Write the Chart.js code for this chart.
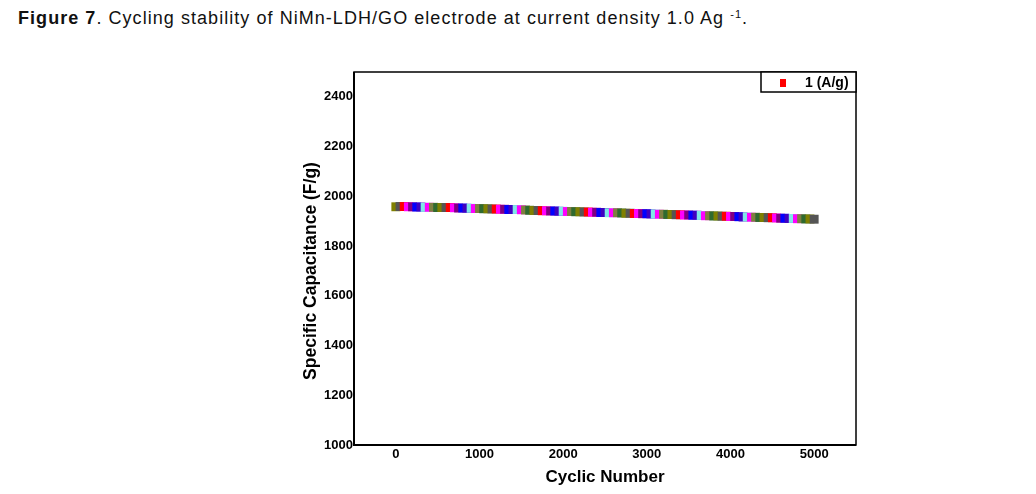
<!DOCTYPE html>
<html>
<head>
<meta charset="utf-8">
<script src="https://cdn.jsdelivr.net/npm/chart.js@4"></script>
<style>
  html, body { margin: 0; padding: 0; background: #fff; width: 1036px; height: 494px; overflow: hidden; }
  #title { position: absolute; left: 18px; top: 8px; font-family: "Liberation Sans", Arial, sans-serif; font-size: 18px; color: #111; white-space: nowrap; letter-spacing: 1.05px; }
  #title b { font-weight: bold; }
  #title sup { font-size: 11px; vertical-align: 6px; line-height: 0; }
  #wrap { position: absolute; left: 0; top: 0; width: 1036px; height: 494px; }
</style>
</head>
<body>
<div id="title"><b>Figure 7</b>. Cycling stability of NiMn-LDH/GO electrode at current density 1.0 Ag <sup>-1</sup>.</div>
<div id="wrap"><canvas id="c" width="1036" height="494"></canvas></div>
<script>
// ---- data ----
const cycles = [
  0, 50, 100, 150, 200, 250, 300, 350, 400, 450,
  500, 550, 600, 650, 700, 750, 800, 850, 900, 950,
  1000, 1050, 1100, 1150, 1200, 1250, 1300, 1350, 1400, 1450,
  1500, 1550, 1600, 1650, 1700, 1750, 1800, 1850, 1900, 1950,
  2000, 2050, 2100, 2150, 2200, 2250, 2300, 2350, 2400, 2450,
  2500, 2550, 2600, 2650, 2700, 2750, 2800, 2850, 2900, 2950,
  3000, 3050, 3100, 3150, 3200, 3250, 3300, 3350, 3400, 3450,
  3500, 3550, 3600, 3650, 3700, 3750, 3800, 3850, 3900, 3950,
  4000, 4050, 4100, 4150, 4200, 4250, 4300, 4350, 4400, 4450,
  4500, 4550, 4600, 4650, 4700, 4750, 4800, 4850, 4900, 4950,
  5000
];
const capacitance = [
  1958, 1959, 1959, 1958, 1958, 1957, 1957, 1956, 1956, 1956,
  1955, 1955, 1955, 1955, 1954, 1953, 1953, 1952, 1952, 1951,
  1951, 1950, 1950, 1949, 1949, 1948, 1948, 1947, 1947, 1947,
  1946, 1945, 1944, 1943, 1943, 1942, 1942, 1941, 1941, 1940,
  1940, 1939, 1939, 1938, 1938, 1937, 1937, 1936, 1936, 1935,
  1935, 1934, 1934, 1934, 1933, 1932, 1932, 1931, 1931, 1930,
  1930, 1929, 1929, 1928, 1928, 1927, 1927, 1926, 1926, 1925,
  1925, 1924, 1924, 1923, 1922, 1922, 1921, 1921, 1920, 1920,
  1919, 1919, 1918, 1917, 1917, 1916, 1916, 1915, 1915, 1914,
  1914, 1913, 1912, 1912, 1911, 1911, 1910, 1910, 1909, 1909,
  1908
];
const seriesLabel = "1 (A/g)";
const xTicks = [0, 1000, 2000, 3000, 4000, 5000];
const yTicks = [1000, 1200, 1400, 1600, 1800, 2000, 2200, 2400];
const xTitle = "Cyclic Number";
const yTitle = "Specific Capacitance (F/g)";

// ---- styling ----
const palette = ['#808000', '#FF00FF', '#0000FF', '#FF0000', '#2F6A2F', '#80E8E8', '#800080', '#555555', '#7F7F40', '#4000C0', '#FF00FF'];
const pointColors = cycles.map((_, i) => palette[(i * 7) % palette.length]);

const AREA = { left: 354, right: 856, top: 72, bottom: 445 };

const framePlugin = {
  id: 'frame',
  afterDatasetsDraw(chart) {
    const ctx = chart.ctx;
    const a = chart.chartArea;
    ctx.save();
    ctx.strokeStyle = '#000';
    ctx.lineWidth = 1.5;
    ctx.strokeRect(a.left, a.top, a.right - a.left, a.bottom - a.top);
    ctx.lineWidth = 2;
    ctx.beginPath();
    ctx.moveTo(a.left, a.top); ctx.lineTo(a.left, a.bottom); ctx.lineTo(a.right, a.bottom);
    ctx.stroke();
    // legend
    const lx = 761, ly = a.top, lw = a.right - lx, lh = 20;
    ctx.fillStyle = '#fff';
    ctx.fillRect(lx, ly, lw, lh);
    ctx.lineWidth = 1.5;
    ctx.strokeRect(lx, ly, lw, lh);
    ctx.fillStyle = '#FF0000';
    ctx.fillRect(780, ly + 7, 6, 8);
    ctx.fillStyle = '#000';
    ctx.font = 'bold 14px "Liberation Sans", Arial, sans-serif';
    ctx.textBaseline = 'middle';
    ctx.textAlign = 'left';
    ctx.fillText(chart.data.datasets[0].label, 805, ly + 11);
    // axis titles
    ctx.font = 'bold 17px "Liberation Sans", Arial, sans-serif';
    ctx.textAlign = 'center';
    ctx.fillText(xTitle, (a.left + a.right) / 2, 477);
    ctx.translate(311, 271);
    ctx.rotate(-Math.PI / 2);
    ctx.font = 'bold 17.5px "Liberation Sans", Arial, sans-serif';
    ctx.fillText(yTitle, 0, 0);
    ctx.restore();
  }
};

const tickFont = { family: '"Liberation Sans", Arial, sans-serif', size: 13, weight: 'bold' };

new Chart(document.getElementById('c'), {
  type: 'scatter',
  data: {
    datasets: [{
      label: seriesLabel,
      data: cycles.map((c, i) => ({ x: c, y: capacitance[i] })),
      pointStyle: 'rect',
      pointRadius: 6.3,
      pointHoverRadius: 6.3,
      borderWidth: 0,
      backgroundColor: pointColors,
      borderColor: pointColors,
      showLine: false
    }]
  },
  options: {
    responsive: false,
    animation: false,
    devicePixelRatio: 1,
    layout: { padding: { left: 0, top: AREA.top, right: 1036 - AREA.right, bottom: 0 } },
    plugins: { legend: { display: false }, tooltip: { enabled: false }, title: { display: false } },
    scales: {
      x: {
        type: 'linear', min: -500, max: 5500,
        afterBuildTicks(s) { s.ticks = xTicks.map(v => ({ value: v })); },
        afterFit(s) { s.height = 494 - AREA.bottom; },
        grid: { display: false, drawTicks: false },
        border: { display: false },
        ticks: { color: '#000', padding: 2, font: tickFont, maxRotation: 0, callback: v => String(v) }
      },
      y: {
        type: 'linear', min: 1000, max: 2500,
        afterBuildTicks(s) { s.ticks = yTicks.map(v => ({ value: v })); },
        afterFit(s) { s.width = AREA.left; },
        grid: { display: false, drawTicks: false },
        border: { display: false },
        ticks: { color: '#000', padding: 1, font: tickFont, callback: v => String(v) }
      }
    }
  },
  plugins: [framePlugin]
});
</script>
</body>
</html>
